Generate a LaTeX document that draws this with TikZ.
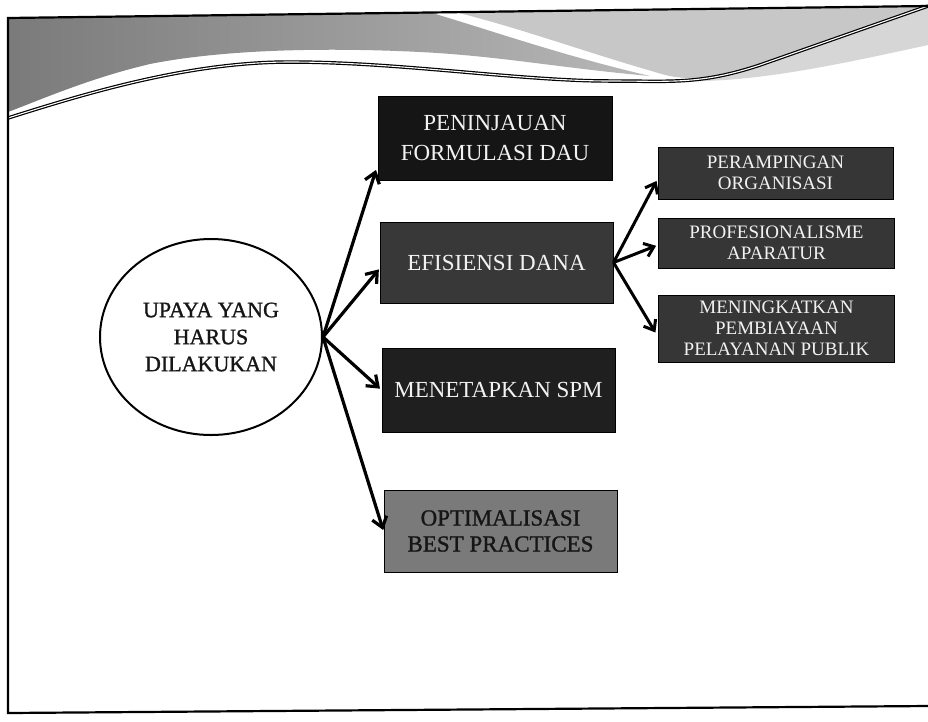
\documentclass[tikz,border=0pt]{standalone}
\usepackage{fontspec}
\setmainfont{Liberation Serif}
\newfontfamily\heavyserif[FakeBold=1.2]{Liberation Serif}
\usetikzlibrary{arrows.meta,shapes.geometric}
\definecolor{boxpen}{HTML}{151515}
\definecolor{boxefi}{HTML}{383838}
\definecolor{boxmen}{HTML}{1F1F1F}
\definecolor{boxopt}{HTML}{7A7A7A}
\definecolor{boxsub}{HTML}{363636}
\definecolor{txtwhite}{HTML}{F2F2F2}
\definecolor{txtdark}{HTML}{161616}
\begin{document}
\begin{tikzpicture}[x=1pt,y=-1pt,
  mainbox/.style={draw=black, line width=1pt, minimum width=234pt, minimum height=82pt,
    inner sep=0pt, align=center, text=txtwhite, font=\fontsize{23}{30}\selectfont},
  subbox/.style={draw=black, line width=1pt, minimum width=236pt, inner sep=0pt,
    align=center, text=txtwhite, font=\fontsize{19}{21}\selectfont},
  arr/.style={line width=3.2pt, -{Straight Barb[length=10pt,width=15pt]}},
  subarr/.style={line width=3pt, -{Straight Barb[length=9pt,width=14pt]}}]
\useasboundingbox (0,0) rectangle (928,721);
\fill[white] (0,0) rectangle (928,721);
% top decoration
\shade[left color=black!52, right color=black!28]
  (8,18) -- (430,12.4) .. controls (490,30) and (560,55) .. (650,76)
  .. controls (560,68) and (500,56) .. (420,52)
  .. controls (320,47) and (220,50) .. (150,64)
  .. controls (90,78) and (40,100) .. (8,112) -- cycle;
\fill[black!22] (455,12) .. controls (520,28) and (585,52) .. (655,72)
  .. controls (680,80) and (700,82) .. (760,65) -- (928,6) -- cycle;
\fill[black!16] (690,81) .. controls (720,78) and (740,72) .. (760,65) -- (928,6)
  -- (928,45) .. controls (850,62) and (760,82) .. (690,81) -- cycle;
\draw[line width=1.2pt, double=white, double distance=1.1pt]
  (8,118) .. controls (90,92) and (190,62) .. (290,62)
  .. controls (400,62) and (520,81) .. (610,81)
  .. controls (670,81) and (700,85) .. (760,65) -- (928,6);
% frame
\draw[line width=2.2pt] (928,6) -- (8,18) -- (8,713) -- (928,706);

% centre circle
\node[ellipse, draw=black, line width=2pt, minimum width=222pt, minimum height=196pt,
  inner sep=0pt, align=center, font=\heavyserif\fontsize{22}{27}\selectfont, text=txtdark]
  (c) at (211,337) {UPAYA YANG\\HARUS\\DILAKUKAN};
\coordinate (hub) at (c.east);

% main boxes
\node[mainbox, fill=boxpen, minimum height=84pt] (pen) at (495,138) {PENINJAUAN\\FORMULASI DAU};
\node[mainbox, fill=boxefi, minimum width=233pt, minimum height=81pt] (efi) at (496.5,262.5) {EFISIENSI DANA};
\node[mainbox, fill=boxmen, minimum width=233pt, minimum height=84pt] (men) at (498.5,390) {MENETAPKAN SPM};
\node[mainbox, fill=boxopt, text=txtdark, font=\heavyserif\fontsize{23}{26}\selectfont,
  minimum width=233pt, minimum height=82pt] (opt) at (500.5,531) {OPTIMALISASI\\BEST PRACTICES};

% sub boxes
\node[subbox, fill=boxsub, minimum width=235pt, minimum height=52pt] (per) at (775.5,173) {PERAMPINGAN\\ORGANISASI};
\node[subbox, fill=boxsub, minimum height=50pt] (pro) at (776.5,243) {PROFESIONALISME\\APARATUR};
\node[subbox, fill=boxsub, minimum height=67pt] (mng) at (776.5,328.5) {MENINGKATKAN\\PEMBIAYAAN\\PELAYANAN PUBLIK};

% connectors
\draw[arr, shorten >=5pt] (hub) -- (pen.193);
\draw[arr, shorten >=1pt] (hub) -- (efi.183);
\draw[arr, shorten >=2pt] (hub) -- (men.west);
\draw[arr, shorten >=1pt] (hub) -- (opt.west);
\draw[subarr, shorten >=2pt] (efi.east) -- (per.183);
\draw[subarr, shorten >=2pt] (efi.east) -- (pro.181);
\draw[subarr, shorten >=5pt] (efi.east) -- (mng.184);
\end{tikzpicture}
\end{document}
